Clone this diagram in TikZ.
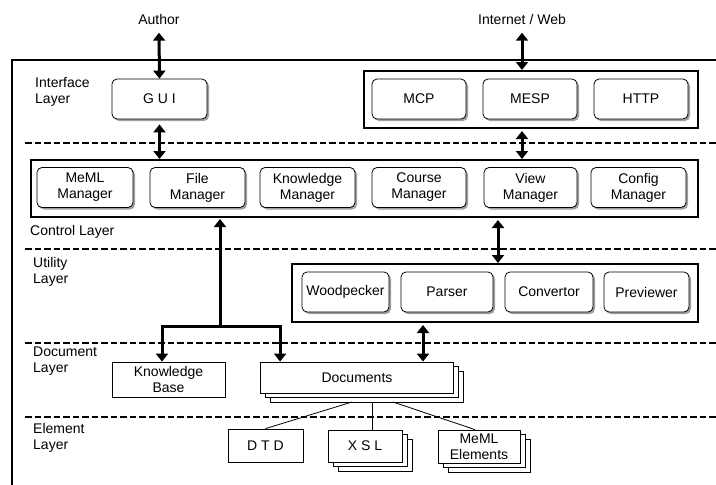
\documentclass[tikz,border=0pt]{standalone}
\usepackage{fontspec}
\setmainfont{Liberation Sans}
\usetikzlibrary{arrows.meta,shadows}

\tikzset{
  every node/.style={font=\fontsize{14}{16}\selectfont},
  mgr/.style={draw, line width=0.8pt, rounded corners=5pt, fill=white, align=center, inner sep=0pt,
    minimum height=40pt, drop shadow={shadow xshift=2pt, shadow yshift=-2pt, fill=gray!75, opacity=1}},
  grp/.style={draw, line width=2pt, inner sep=0pt},
  plain/.style={draw, line width=0.8pt, fill=white, align=center, inner sep=0pt},
  stack/.style={plain, double copy shadow={shadow xshift=5pt, shadow yshift=-4.5pt}},
  layer/.style={line width=1.6pt, dash pattern=on 6.5pt off 3pt},
  lbl/.style={align=left, anchor=north west, inner sep=0pt},
  bigtip/.tip={Triangle[width=12pt,length=8pt]},
  bidir/.style={line width=3pt, bigtip-bigtip},
  onedir/.style={line width=3pt, -bigtip},
}

\begin{document}
\begin{tikzpicture}[x=1pt,y=-1pt]
\useasboundingbox (0,0) rectangle (716,485);

% outer frame and layer borders
\draw[line width=2pt] (12,485) |- (716,60);
\foreach \y in {143,249,343,417}
  \draw[layer] (25,\y) -- (716,\y);

% layer names
\node[lbl] at (35,77) {Interface\\Layer};
\node[lbl] at (30,225) {Control Layer};
\node[lbl] at (33,257) {Utility\\Layer};
\node[lbl] at (33,347) {Document\\Layer};
\node[lbl] at (33,423) {Element\\Layer};

% outside actors
\node (author) at (159,19) {Author};
\node (inet) at (522,19) {Internet / Web};

% interface layer
\node[mgr, minimum width=95pt] (gui) at (159.5,99) {G U I};
\node[grp, minimum width=334pt, minimum height=57pt] (iface) at (531,99.5) {};
\node[mgr, minimum width=94pt] (mcp) at (419,99) {MCP};
\node[mgr, minimum width=94pt] (mesp) at (530,99) {MESP};
\node[mgr, minimum width=94pt] (http) at (641,99) {HTTP};

% control layer
\node[grp, minimum width=667pt, minimum height=57pt] (ctrl) at (364.5,188.5) {};
\node[mgr, minimum width=96pt] (meml) at (85,187.5) {MeML\\Manager};
\node[mgr, minimum width=95pt] (file) at (197.5,187.5) {File\\Manager};
\node[mgr, minimum width=95pt] (know) at (307.5,187.5) {Knowledge\\Manager};
\node[mgr, minimum width=94pt] (course) at (419,187.5) {Course\\Manager};
\node[mgr, minimum width=93pt] (view) at (530.5,187.5) {View\\Manager};
\node[mgr, minimum width=95pt] (config) at (638.5,187.5) {Config\\Manager};

% utility layer
\node[grp, minimum width=406pt, minimum height=58pt] (util) at (495,293) {};
\node[mgr, minimum width=87pt] (wood) at (345.5,292) {Woodpecker};
\node[mgr, minimum width=92pt] (parser) at (447,292) {Parser};
\node[mgr, minimum width=88pt] (conv) at (549,292) {Convertor};
\node[mgr, minimum width=85pt] (prev) at (646.5,292) {Previewer};

% document layer
\node[plain, minimum width=113pt, minimum height=35pt] (kb) at (168.5,379.5) {Knowledge\\Base};
\node[stack, minimum width=193pt, minimum height=31pt] (docs) at (357,377.5) {Documents};

% element layer
\node[plain, minimum width=75pt, minimum height=33pt] (dtd) at (265.5,445.5) {D T D};
\node[stack, minimum width=74pt, minimum height=32pt] (xsl) at (365,446) {X S L};
\node[stack, minimum width=82pt, minimum height=33pt] (mel) at (479,446.5) {MeML\\Elements};

% connectors
\coordinate (vu) at (498,233);
\coordinate (ud) at (423,333);
\coordinate (split) at (220,326);
\draw[bidir] ([yshift=-5pt]author.south) -- (gui.north);
\draw[bidir] ([yshift=-5pt]gui.south) -- (gui.south |- ctrl.north);
\draw[bidir] ([yshift=-5pt]inet.south) -- (inet |- iface.north);
\draw[bidir] ([yshift=-2pt]inet |- iface.south) -- (inet |- ctrl.north);
\draw[bidir] ([yshift=-2pt]vu |- ctrl.south) -- (vu |- util.north);
\draw[bidir] ([yshift=-2pt]ud |- util.south) -- (ud |- docs.north);
\draw[onedir] (split) -- ([yshift=-1pt]split |- ctrl.south);
\draw[onedir] (split) -| ([xshift=-6.5pt]kb.north);
\draw[onedir] (split) -| ([xshift=20pt]docs.north west);

\coordinate (t1) at (352,402);
\coordinate (t2) at (372,402);
\coordinate (t3) at (393,402);
\draw[line width=0.8pt] (t1) -- (dtd.north);
\draw[line width=0.8pt] (t2) -- (t2 |- xsl.north);
\draw[line width=0.8pt] (t3) -- ([xshift=-4pt]mel.north);

\end{tikzpicture}
\end{document}
